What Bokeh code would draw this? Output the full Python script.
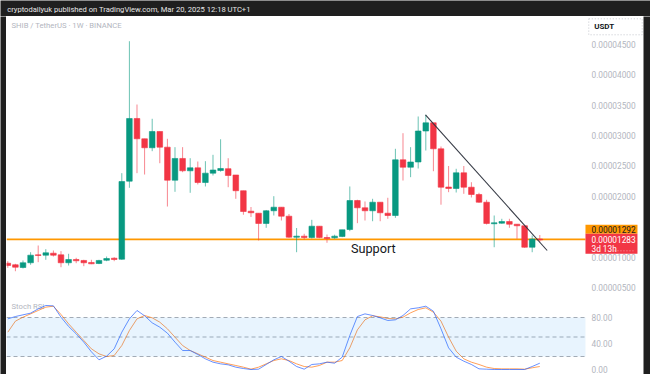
import numpy as np
from bokeh.plotting import figure
from bokeh.layouts import column, row
from bokeh.models import (Range1d, FixedTicker, PrintfTickFormatter, LinearAxis,
                          BoxAnnotation, ColumnDataSource)
from bokeh.core.properties import value
from bokeh.embed import file_html
from bokeh.resources import INLINE

UNIT = 1e-6  # prices below are in millionths of USDT

# ---------------- data (weekly SHIB/USDT candles, x 1e-6) ----------------
opens = [9.00, 8.74, 8.29, 9.07, 10.38, 10.32, 10.65, 10.38, 9.07, 9.61,
         9.45, 9.12, 8.95, 9.49, 9.82, 9.66, 22.50, 32.82, 29.48, 28.00,
         30.68, 28.10, 22.66, 26.24, 24.21, 24.70, 22.28, 23.82, 24.26, 24.56,
         23.52, 20.93, 17.56, 17.23, 15.54, 17.63, 18.22, 16.74, 13.28, 13.45,
         13.23, 15.09, 13.23, 13.18, 13.40, 14.55, 19.32, 18.12, 17.63, 19.04,
         17.23, 16.85, 26.02, 24.80, 25.66, 30.76, 32.11, 27.83, 21.54, 21.30,
         23.88, 21.51, 20.31, 19.04, 15.49, 15.59, 15.86, 15.42, 15.16, 11.63,
         12.98]
highs = [9.33, 8.90, 9.45, 10.81, 11.91, 11.31, 11.09, 10.98, 10.55, 9.89,
         9.56, 9.56, 9.56, 10.10, 9.99, 23.82, 45.54, 35.12, 29.48, 32.77,
         30.68, 29.48, 28.10, 28.10, 26.28, 25.74, 25.79, 26.84, 29.40, 26.28,
         23.52, 20.93, 18.25, 17.23, 17.76, 20.03, 18.22, 17.10, 14.79, 13.84,
         16.14, 15.09, 13.72, 13.69, 14.50, 21.63, 19.44, 19.16, 19.60, 19.04,
         19.77, 27.83, 30.40, 28.10, 33.15, 33.43, 32.11, 28.21, 25.00, 24.54,
         25.00, 22.33, 20.59, 19.44, 16.85, 16.31, 16.31, 15.42, 15.16, 13.56,
         13.64]
lows = [8.24, 7.68, 8.13, 8.74, 9.17, 9.56, 10.10, 8.34, 8.62, 9.00,
        8.51, 8.84, 8.84, 9.33, 9.33, 9.56, 21.41, 23.82, 23.60, 27.44,
        25.46, 18.33, 20.75, 23.98, 20.59, 21.96, 21.63, 23.44, 24.06, 21.51,
        19.60, 16.98, 16.61, 12.74, 14.83, 16.85, 16.03, 13.18, 10.81, 12.90,
        13.07, 13.12, 12.36, 13.02, 13.28, 14.27, 15.59, 16.03, 15.91, 15.91,
        16.31, 16.47, 22.61, 23.16, 24.59, 27.55, 24.14, 18.63, 20.69, 20.64,
        20.42, 19.82, 18.94, 15.37, 11.63, 15.49, 14.83, 13.02, 11.54, 10.81,
        12.46]
closes = [8.62, 8.34, 9.07, 10.32, 10.27, 10.71, 10.32, 9.07, 9.61, 9.40,
          9.07, 8.90, 9.45, 9.77, 9.61, 22.45, 32.82, 29.48, 28.00, 30.68,
          28.10, 22.66, 26.24, 24.21, 24.70, 22.28, 23.82, 24.34, 24.59, 23.44,
          20.93, 17.51, 17.30, 15.54, 17.63, 18.22, 16.74, 13.28, 13.45, 13.23,
          15.09, 13.23, 13.07, 13.45, 14.50, 19.32, 18.12, 17.63, 19.04, 17.30,
          16.85, 26.02, 24.80, 25.66, 30.76, 32.11, 27.83, 21.51, 21.30, 23.88,
          21.51, 20.31, 19.04, 15.54, 15.65, 15.86, 15.42, 15.16, 11.63, 12.98,
          12.83]

stoch_k = [77.9, 81.5, 84.1, 86.7, 93.3, 98.5, 97.9, 80.5, 66.2, 54.9,
           42.1, 27.2, 14.9, 20.5, 31.8, 57.4, 77.9, 90.8, 82.6, 71.8,
           65.1, 55.9, 42.1, 29.2, 29.2, 23.1, 16.4, 11.3, 8.7, 7.2,
           3.6, 1.5, 0.0, 0.5, 7.7, 14.9, 20.0, 12.8, 4.6, 0.5,
           7.7, 8.7, 11.3, 9.7, 19.0, 52.3, 81.5, 85.6, 83.1, 79.5,
           75.4, 76.4, 83.1, 93.3, 94.9, 97.4, 89.7, 62.6, 33.3, 19.0,
           12.8, 7.7, 1.0, 0.5, 0.0, 0.0, 0.0, 0.0, 0.0, 4.6,
           9.7]
stoch_d = [57.4, 74.4, 80.5, 85.6, 90.8, 95.9, 97.4, 84.6, 70.3, 57.4,
           44.6, 31.8, 24.1, 20.0, 21.5, 36.9, 60.0, 77.9, 83.1, 79.5,
           72.8, 62.6, 49.7, 36.9, 29.2, 24.1, 19.0, 13.8, 11.3, 8.7,
           6.2, 3.6, 0.5, 3.6, 8.7, 13.8, 16.4, 13.8, 8.7, 4.6,
           3.6, 6.2, 11.3, 11.3, 13.8, 33.3, 61.0, 76.4, 82.6, 81.0,
           78.5, 77.9, 80.5, 87.2, 92.3, 94.9, 88.2, 74.4, 49.7, 28.2,
           16.4, 11.3, 7.7, 3.6, 1.5, 1.0, 1.0, 1.0, 0.5, 2.6,
           4.6]

price_ticks = [5, 10, 20, 25, 30, 35, 40, 45]
stoch_ticks = [0, 40, 80]
stoch_levels = [20, 50, 80]
support_level = 12.92
last_price = 12.83
trend_x = [54.96, 70.97]
trend_y = [33.43, 11.09]

header_text = "cryptodailyuk published on TradingView.com, Mar 20, 2025 12:18 UTC+1"
symbol_text = "SHIB / TetherUS \u00b7 1W \u00b7 BINANCE"
support_text = "Support"
currency_text = "USDT"
countdown_text = "3d 13h"

# ---------------- styling / geometry ----------------
FONT = "Roboto"
DARK = "#1f1f1f"
GREEN = "#089981"
RED = "#f23645"
ORANGE = "#ff9800"
AXIS_TXT = "#b2b5be"
INK = "#131722"

W_MID, H_MAIN, H_STOCH = 637, 279, 77
X_START, PANE_END, X_END = -0.171, 76.01, 83.645
Y_START, Y_END = 3.683, 49.609
S_START, S_END = -7.69, 110.77
PXX = (X_END - X_START) / W_MID          # data-x per pixel
PXY = (Y_END - Y_START) * UNIT / H_MAIN  # price per pixel


def strip(w, h, color=DARK):
    f = figure(width=w, height=h, toolbar_location=None, output_backend="svg",
               x_axis_location=None, y_axis_location=None, min_border=0,
               outline_line_color=None, background_fill_color=color,
               border_fill_color=color, x_range=Range1d(0, 1), y_range=Range1d(0, 1))
    f.grid.visible = False
    return f


def price_axis(ticks, fmt):
    return LinearAxis(fixed_location=PANE_END, ticker=FixedTicker(ticks=ticks),
                      formatter=PrintfTickFormatter(format=fmt),
                      axis_line_color=None, major_tick_line_color=None,
                      minor_tick_line_color=None, major_tick_out=0, major_tick_in=0,
                      major_label_standoff=6, major_label_text_color=AXIS_TXT,
                      major_label_text_font=FONT, major_label_text_font_size="8.3px")


# header bar
hdr = figure(width=650, height=16, toolbar_location=None, output_backend="svg",
             x_axis_location=None, y_axis_location=None, min_border=0,
             outline_line_color=None, background_fill_color=DARK,
             border_fill_color=DARK, x_range=Range1d(0, 650), y_range=Range1d(0, 16))
hdr.grid.visible = False
hdr.text(x=[6.7], y=[7.2], text=[header_text], text_color="#e6e6e6",
         text_font=value(FONT), text_font_size="7.6px", text_baseline="middle")

# ---------------- main price pane ----------------
n = len(opens)
xs = list(range(n))
o = np.array(opens) * UNIT
h = np.array(highs) * UNIT
l = np.array(lows) * UNIT
c = np.array(closes) * UNIT
colors = [GREEN if cc >= oo else RED for oo, cc in zip(o, c)]
src = ColumnDataSource(dict(x=xs, h=h, l=l, top=np.maximum(o, c),
                            bottom=np.minimum(o, c), color=colors))

p = figure(width=W_MID, height=H_MAIN, x_range=Range1d(X_START, X_END),
           y_range=Range1d(Y_START * UNIT, Y_END * UNIT),
           toolbar_location=None, output_backend="svg",
           x_axis_location=None, y_axis_location=None, min_border=0,
           outline_line_color=None, background_fill_color="white",
           border_fill_color="white")
p.grid.visible = False
p.add_layout(price_axis([t * UNIT for t in price_ticks], "%.8f"), "right")

p.text(x=[X_START + 5 * PXX], y=[Y_END * UNIT - 9.3 * PXY], text=[symbol_text],
       text_font=value(FONT), text_font_size="7.7px", text_color=AXIS_TXT,
       text_baseline="middle")

# horizontal support line (stops at the price scale)
p.segment(x0=[X_START], x1=[PANE_END], y0=[support_level * UNIT],
          y1=[support_level * UNIT], line_color=ORANGE, line_width=1.6)

p.segment(x0="x", y0="l", x1="x", y1="h", source=src, line_color="color",
          line_width=1, line_alpha=0.6)
p.vbar(x="x", width=0.74, top="top", bottom="bottom", source=src,
       fill_color="color", line_color="color", line_width=0.6)

p.line(trend_x, [v * UNIT for v in trend_y], line_color="#363a45", line_width=1.1)

p.text(x=[48.1], y=[11.41 * UNIT], text=[support_text], text_font=value(FONT),
       text_font_size="12.7px", text_color=INK, text_align="center",
       text_baseline="alphabetic")

# price-scale badges
usdt_top = Y_END * UNIT - 2.3 * PXY
p.quad(left=[PANE_END + 3.3 * PXX], right=[PANE_END + 56.7 * PXX],
       top=[usdt_top], bottom=[usdt_top - 16 * PXY], fill_color=None,
       line_color="#c3c5cc", line_dash="1 2", line_width=1)
p.text(x=[PANE_END + 8.7 * PXX], y=[usdt_top - 8 * PXY], text=[currency_text],
       text_font=value(FONT), text_font_size="8px", text_font_style="bold",
       text_color=INK, text_baseline="middle")

orange_mid = support_level * UNIT + 10.1 * PXY
p.quad(left=[PANE_END], right=[PANE_END + 52 * PXX], top=[orange_mid + 4.5 * PXY],
       bottom=[orange_mid - 4.5 * PXY], fill_color=ORANGE, line_color=None)
p.text(x=[PANE_END + 6 * PXX], y=[orange_mid], text=["%.8f" % (support_level * UNIT)],
       text_font=value(FONT), text_font_size="8.3px", text_color=INK,
       text_baseline="middle")

red_mid = last_price * UNIT - 3.9 * PXY
p.quad(left=[PANE_END], right=[PANE_END + 52 * PXX], top=[red_mid + 10 * PXY],
       bottom=[red_mid - 10 * PXY], fill_color=RED, line_color=None)
p.text(x=[PANE_END + 6 * PXX] * 2, y=[red_mid + 4.8 * PXY, red_mid - 4.7 * PXY],
       text=["%.8f" % (last_price * UNIT), countdown_text],
       text_font=value(FONT), text_font_size="8.3px", text_color="white",
       text_baseline="middle")
p.segment(x0=[PANE_END + 29 * PXX], x1=[PANE_END + 49 * PXX],
          y0=[red_mid - 7 * PXY], y1=[red_mid - 7 * PXY],
          line_color="white", line_alpha=0.5, line_dash="1 2", line_width=1)

# ---------------- separator ----------------
sep = strip(W_MID, 2, "#c5c7cc")

# ---------------- Stoch RSI pane ----------------
s = figure(width=W_MID, height=H_STOCH, x_range=p.x_range,
           y_range=Range1d(S_START, S_END),
           toolbar_location=None, output_backend="svg",
           x_axis_location=None, y_axis_location=None, min_border=0,
           outline_line_color=None, background_fill_color="white",
           border_fill_color="white")
s.grid.visible = False
s.add_layout(price_axis(stoch_ticks, "%.2f"), "right")

s.add_layout(BoxAnnotation(left=X_START, right=PANE_END, bottom=stoch_levels[0],
                           top=stoch_levels[-1], fill_color="#2196f3",
                           fill_alpha=0.1, line_color=None))
s.segment(x0=[X_START] * 3, x1=[PANE_END] * 3, y0=stoch_levels, y1=stoch_levels,
          line_color="#9598a1", line_dash="4 3", line_width=1, line_alpha=0.8)

s.text(x=[X_START + 5 * PXX], y=[97.2], text=["Stoch RSI"], text_font=value(FONT),
       text_font_size="7.7px", text_color=AXIS_TXT, text_baseline="middle")
s.line(xs, stoch_d, line_color="#ff6d00", line_width=1, line_alpha=0.65)
s.line(xs, stoch_k, line_color="#2962ff", line_width=1, line_alpha=0.7)

layout = column(hdr, row(strip(6, H_MAIN + 2 + H_STOCH), column(p, sep, s),
                         strip(7, H_MAIN + 2 + H_STOCH)))

open("out.html", "w").write(file_html(layout, INLINE))
